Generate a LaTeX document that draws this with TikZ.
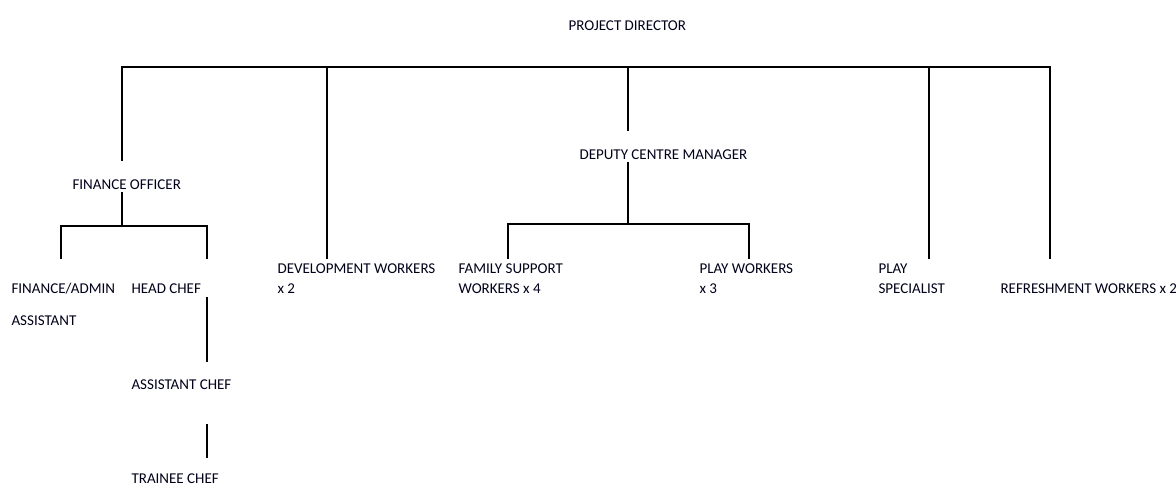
\documentclass[tikz,border=0pt]{standalone}
\usepackage{fontspec}
\setmainfont{Carlito}
\begin{document}
\begin{tikzpicture}[x=1pt,y=-1pt,line width=1.1pt,line cap=rect]
		\tikzset{post/.style={anchor=base west,inner sep=0pt,font=\fontsize{15}{18}\selectfont,text=black!90!blue}}
		\useasboundingbox (0,0) rectangle (1176,485);
		% posts
		\node[post] (pd) at (568,30) {PROJECT DIRECTOR};
		\node[post] (fo) at (72,189) {FINANCE OFFICER};
		\node[post] (dcm) at (579,159) {DEPUTY CENTRE MANAGER};
		\node[post] (fa) at (11,293) {FINANCE/ADMIN};
		\node[post] (fa2) at (11,325) {ASSISTANT};
		\node[post] (hc) at (131,293) {HEAD CHEF};
		\node[post] (ac) at (131,389) {ASSISTANT CHEF};
		\node[post] (tc) at (131,483) {TRAINEE CHEF};
		\node[post] (dw) at (277,273) {DEVELOPMENT WORKERS};
		\node[post] (dw2) at (277,293) {x 2};
		\node[post] (fs) at (458,273) {FAMILY SUPPORT};
		\node[post] (fs2) at (458,293) {WORKERS x 4};
		\node[post] (pw) at (699,273) {PLAY WORKERS};
		\node[post] (pw2) at (699,293) {x 3};
		\node[post] (ps) at (878,273) {PLAY};
		\node[post] (ps2) at (878,293) {SPECIALIST};
		\node[post] (rw) at (1000,293) {REFRESHMENT WORKERS x 2};
		% top bar
		\coordinate (barL) at (122,67);
		\coordinate (barR) at (1050,67);
		\draw (barL) -- (barR);
		\draw (barL) -- (122,160);
		\draw (327,67) -- (327,258);
		\draw (628,67) -- (628,130);
		\draw (929,67) -- (929,258);
		\draw (barR) -- (1050,258);
		% finance officer
		\coordinate (foL) at (61,226);
		\coordinate (foR) at (207,226);
		\draw (122,193) -- (122,226);
		\draw (61,258) -- (foL) -- (foR) -- (207,258);
		\draw (207,298) -- (207,361);
		\draw (207,425) -- (207,457);
		% deputy centre manager
		\coordinate (dcmL) at (508,224);
		\coordinate (dcmR) at (749,224);
		\draw (628,163) -- (628,224);
		\draw (508,258) -- (dcmL) -- (dcmR) -- (749,258);
\end{tikzpicture}
\end{document}
